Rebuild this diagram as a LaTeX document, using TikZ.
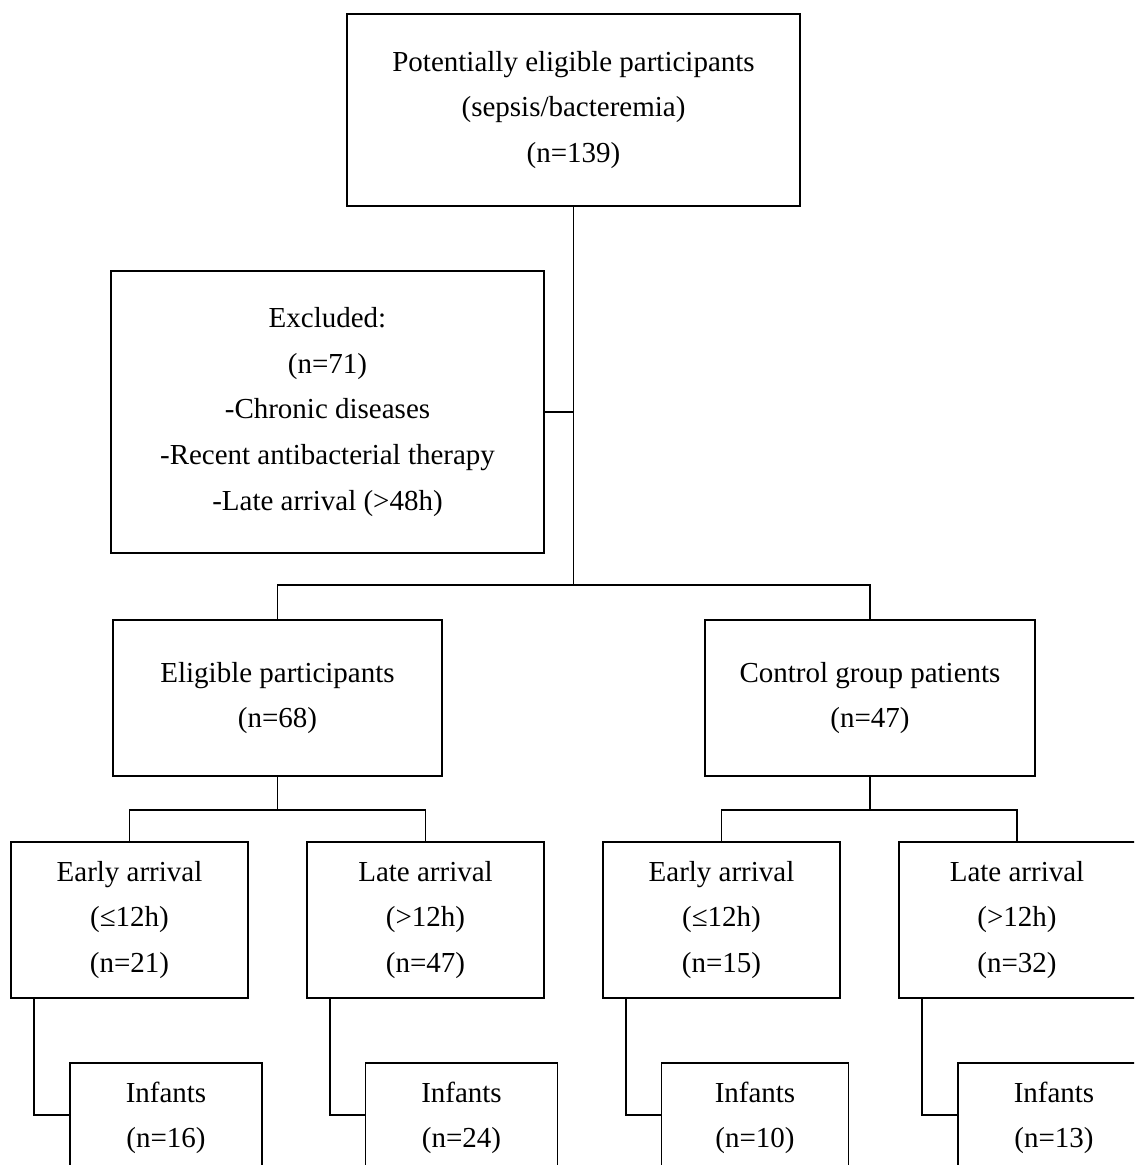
\documentclass[tikz,border=0pt]{standalone}
\usepackage{fontspec}
\setmainfont{Liberation Serif}
\usepackage{tikz}
\usetikzlibrary{positioning, calc}
\tikzset{
  flowbox/.style={rectangle, draw, line width=1.1pt, fill=white, align=center, font=\fontsize{16.5}{26}\selectfont},
  bigbox/.style={flowbox, minimum width=9.06cm, minimum height=3.84cm},
  exclbox/.style={flowbox, minimum width=8.66cm, minimum height=5.64cm},
  groupbox/.style={flowbox, minimum width=6.6cm, minimum height=3.12cm},
  arrivbox/.style={flowbox, minimum width=4.74cm, minimum height=3.12cm},
  infbox/.style={flowbox, minimum width=3.84cm, minimum height=2.2cm},
  conn/.style={line width=1.1pt},
}

\begin{document}
\begin{tikzpicture}[x=0.02cm, y=-0.02cm]
  \useasboundingbox (0,0) rectangle (1134,1165);
  \clip (0,0) rectangle (1134,1165);

  % Screening
  \node[bigbox] (pot) at (573.5,110) {Potentially eligible participants\\(sepsis/bacteremia)\\(n=139)};
  \node[exclbox] (excl) at (327.5,412) {Excluded:\\(n=71)\\-Chronic diseases\\-Recent antibacterial therapy\\-Late arrival (>48h)};

  % Groups
  \node[groupbox, minimum width=6.58cm] (elig) at (277.5,698) {Eligible participants\\(n=68)};
  \node[groupbox] (ctrl) at (870,698) {Control group patients\\(n=47)};

  % Arrival time
  \node[arrivbox] (ea1) at (129.5,920) {Early arrival\\(≤12h)\\(n=21)};
  \node[arrivbox] (la1) at (425.5,920) {Late arrival\\(>12h)\\(n=47)};
  \node[arrivbox] (ea2) at (721.5,920) {Early arrival\\(≤12h)\\(n=15)};
  \node[arrivbox] (la2) at (1017,920) {Late arrival\\(>12h)\\(n=32)};

  % Infants
  \node[infbox] (inf1) at (166,1118) {Infants\\(n=16)};
  \node[infbox] (inf2) at (461.5,1118) {Infants\\(n=24)};
  \node[infbox, minimum width=3.74cm] (inf3) at (755,1118) {Infants\\(n=10)};
  \node[infbox] (inf4) at (1054,1118) {Infants\\(n=13)};

  % connectors
  \coordinate (split) at (573.5,585);
  \coordinate (splitA) at (277.5,810);
  \coordinate (splitB) at (870,810);
  \draw[conn] (pot.south) -- (split);
  \draw[conn] (excl.east) -- (excl.east -| pot.south);
  \draw[conn] (split) -| (elig.north);
  \draw[conn] (split) -| (ctrl.north);
  \draw[conn] (elig.south) -- (splitA);
  \draw[conn] (splitA) -| (ea1.north);
  \draw[conn] (splitA) -| (la1.north);
  \draw[conn] (ctrl.south) -- (splitB);
  \draw[conn] (splitB) -| (ea2.north);
  \draw[conn] (splitB) -| (la2.north);
  \draw[conn] ($(ea1.south west)+(24,0)$) |- ($(inf1.west)+(0,-3)$);
  \draw[conn] ($(la1.south west)+(24,0)$) |- ($(inf2.west)+(0,-3)$);
  \draw[conn] ($(ea2.south west)+(24,0)$) |- ($(inf3.west)+(0,-3)$);
  \draw[conn] ($(la2.south west)+(24,0)$) |- ($(inf4.west)+(0,-3)$);
\end{tikzpicture}
\end{document}
